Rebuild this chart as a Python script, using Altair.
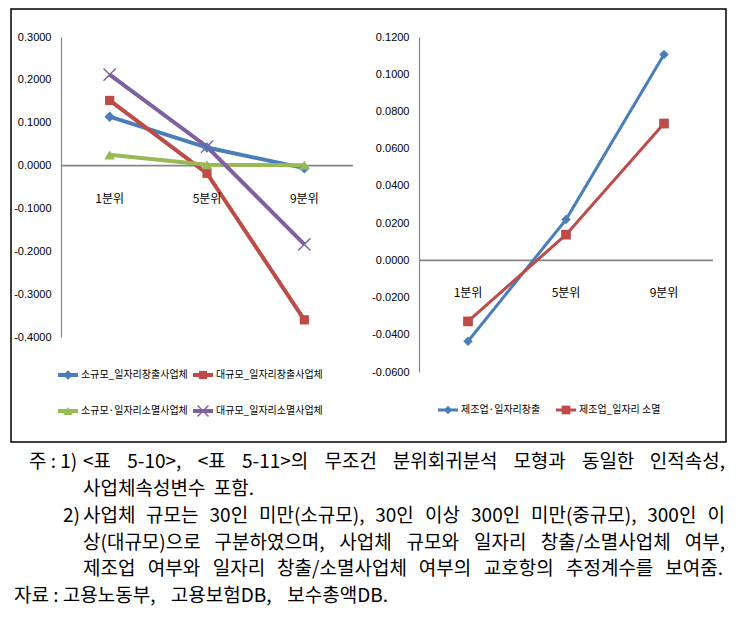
import altair as alt
import pandas as pd

# ---------------- data ----------------
CATS = ["1분위", "5분위", "9분위"]

LEFT_SERIES = ["소규모_일자리창출사업체", "대규모_일자리창출사업체",
               "소규모·일자리소멸사업체", "대규모_일자리소멸사업체"]
LEFT_BLUE = [0.114, 0.042, -0.006]
LEFT_RED = [0.152, -0.018, -0.360]
LEFT_GREEN = [0.025, 0.002, 0.001]
LEFT_PURPLE = [0.212, 0.044, -0.184]
LEFT_TICKS = [0.3, 0.2, 0.1, 0.0, -0.1, -0.2, -0.3, -0.4]

RIGHT_SERIES = ["제조업·일자리창출", "제조업_일자리 소멸"]
RIGHT_BLUE = [-0.0435, 0.0219, 0.1106]
RIGHT_RED = [-0.0328, 0.0138, 0.0735]
RIGHT_TICKS = [0.12, 0.10, 0.08, 0.06, 0.04, 0.02, 0.0, -0.02, -0.04, -0.06]

NOTE_PREFIX = ["주 : 1)", "", "2)", "", "", ""]
NOTE_WORDS = [
    ["<표", "5-10>,", "<표", "5-11>의", "무조건", "분위회귀분석", "모형과", "동일한", "인적속성,"],
    ["사업체속성변수", "포함."],
    ["사업체", "규모는", "30인", "미만(소규모),", "30인", "이상", "300인", "미만(중규모),", "300인", "이"],
    ["상(대규모)으로", "구분하였으며,", "사업체", "규모와", "일자리", "창출/소멸사업체", "여부,"],
    ["제조업", "여부와", "일자리", "창출/소멸사업체", "여부의", "교호항의", "추정계수를", "보여줌."],
    ["자료 : 고용노동부,", "고용보험DB,", "보수총액DB."],
]

# ---------------- style / layout ----------------
BLUE, RED, GREEN, PURPLE = "#4A7EBB", "#BE4B48", "#98B954", "#7D60A0"
X_PATH = "M-1,-1L1,1M-1,1L1,-1"
AXIS_GRAY = "#868686"
CJK = "Noto Sans CJK KR"
NUMFONT = "Liberation Sans Narrow, Liberation Sans, sans-serif"

LW, LH = 292, 300
RW, RH = 294, 335
ONE = pd.DataFrame({"k": [0]})


def long_df(series, vals):
    rows = []
    for s, v in zip(series, vals):
        for c, y in zip(CATS, v):
            rows.append({"series": s, "cat": c, "val": y})
    return pd.DataFrame(rows)


def panel(series, vals, colors, shapes, domain, ticks, width, height, lw, msizes,
          legend_xy, box=None):
    df = long_df(series, vals)
    xenc = alt.X("cat:N", sort=CATS,
                 scale=alt.Scale(type="point", padding=0.5, domain=CATS), axis=None)
    yscale = alt.Scale(domain=domain, nice=False, zero=False)
    yaxis = alt.Axis(values=ticks, ticks=False, grid=False, domainColor=AXIS_GRAY,
                     domainWidth=1.2, labelPadding=10, labelFontSize=11,
                     labelFont=NUMFONT, labelColor="#000000", title=None,
                     labelExpr="replace(format(datum.value, '.4f'), '\u2212', '-')")
    yenc = alt.Y("val:Q", scale=yscale, axis=yaxis)
    layers = []
    zero = alt.Chart(ONE).mark_rule(color=AXIS_GRAY, strokeWidth=1.8).encode(
        x=alt.value(0), x2=alt.value(width),
        y=alt.Y(datum=0, scale=yscale, axis=yaxis))
    lines = alt.Chart(df).mark_line(strokeWidth=lw).encode(
        x=xenc, y=yenc,
        color=alt.Color("series:N", scale=alt.Scale(domain=series, range=colors),
                        legend=None),
    )
    layers += [zero, lines]
    for s, c, shp, ms in zip(series, colors, shapes, msizes):
        sub = df[df.series == s]
        if shp == X_PATH:
            mk = alt.Chart(sub).mark_point(shape=shp, filled=False, size=ms, color=c,
                                           strokeWidth=1.4, opacity=1)
        else:
            mk = alt.Chart(sub).mark_point(shape=shp, filled=True, size=ms, color=c,
                                           opacity=1)
        layers.append(mk.encode(x=xenc, y=yenc))
    labels = alt.Chart(pd.DataFrame({"cat": CATS})).mark_text(
        dy=33, font=CJK, fontSize=12, color="#000000").encode(
        x=xenc, y=alt.Y(datum=0, scale=yscale, axis=yaxis), text="cat:N")
    layers.append(labels)
    # legend
    for (s, c, shp, ms), (lx, ly) in zip(zip(series, colors, shapes, msizes), legend_xy):
        layers.append(alt.Chart(ONE).mark_rule(color=c, strokeWidth=lw).encode(
            x=alt.value(lx), x2=alt.value(lx + 20), y=alt.value(ly)))
        if shp == X_PATH:
            pm = alt.Chart(ONE).mark_point(shape=shp, filled=False, size=ms * 0.8,
                                           color=c, strokeWidth=1.4, opacity=1)
        else:
            pm = alt.Chart(ONE).mark_point(shape=shp, filled=True, size=ms * 0.8,
                                           color=c, opacity=1)
        layers.append(pm.encode(x=alt.value(lx + 10), y=alt.value(ly)))
        layers.append(alt.Chart(ONE).mark_text(
            text=s, align="left", baseline="middle", font=CJK, fontSize=10,
            color="#000000").encode(x=alt.value(lx + 23), y=alt.value(ly)))
    if box is not None:
        x0, y0, x1, y1 = box
        layers.append(alt.Chart(ONE).mark_rect(
            fillOpacity=0, stroke="#000000", strokeWidth=1.5).encode(
            x=alt.value(x0), x2=alt.value(x1), y=alt.value(y0), y2=alt.value(y1)))
    return alt.layer(*layers).properties(width=width, height=height)


left = panel(LEFT_SERIES, [LEFT_BLUE, LEFT_RED, LEFT_GREEN, LEFT_PURPLE],
             [BLUE, RED, GREEN, PURPLE], ["diamond", "square", "triangle-up", X_PATH],
             [-0.4, 0.3], LEFT_TICKS, LW, LH, 4, [110, 85, 110, 150],
             [(-3, 338), (132, 338), (-3, 374), (132, 374)],
             box=(-50, -28, 665, 405))

right = panel(RIGHT_SERIES, [RIGHT_BLUE, RIGHT_RED], [BLUE, RED], ["diamond", "square"],
              [-0.06, 0.12], RIGHT_TICKS, RW, RH, 3, [90, 95],
              [(19, 373), (137, 373)])

top = alt.hconcat(left, right, spacing=66, bounds="flush")

# ---------------- notes (justified text) ----------------
FS = 19
NOTE_Y = [462, 489, 516, 543, 569, 596]
NOTE_LR = [(82, 724), (82, 253), (82, 724), (82, 724), (82, 722), (13, 387)]
PREFIX_X = [28, 0, 62, 0, 0, 0]
OX, OY = 60, 444


def tw(s):
    w = 0.0
    for ch in s:
        o = ord(ch)
        if 0xAC00 <= o <= 0xD7A3:
            w += 0.91
        elif ch.isdigit() or ch in "<>":
            w += 0.553
        elif ch in "()":
            w += 0.338
        elif ch in ",.:·":
            w += 0.27
        elif ch == "-":
            w += 0.345
        elif ch == "/":
            w += 0.37
        elif ch == " ":
            w += 0.224
        elif ch in "DB":
            w += 0.66
        else:
            w += 0.55
    return w * FS


rows = {"left": [], "center": [], "right": []}
for i, words in enumerate(NOTE_WORDS):
    py = NOTE_Y[i] - OY
    if NOTE_PREFIX[i]:
        rows["left"].append({"t": NOTE_PREFIX[i], "px": PREFIX_X[i] - OX, "py": py})
    L, R = NOTE_LR[i]
    ws = [tw(w) for w in words]
    gap = (R - L - sum(ws)) / (len(words) - 1)
    x = L
    for j, (w, wd) in enumerate(zip(words, ws)):
        if j == 0:
            rows["left"].append({"t": w, "px": x - OX, "py": py})
        elif j == len(words) - 1:
            rows["right"].append({"t": w, "px": R - OX, "py": py})
        else:
            rows["center"].append({"t": w, "px": x + wd / 2 - OX, "py": py})
        x += wd + gap

note_layers = []
for anchor, rr in rows.items():
    note_layers.append(alt.Chart(pd.DataFrame(rr)).mark_text(
        align=anchor, baseline="middle", font=CJK, fontSize=FS, color="#000000").encode(
        x=alt.X("px:Q", scale=None, axis=None),
        y=alt.Y("py:Q", scale=None, axis=None),
        text="t:N"))
notes = alt.layer(*note_layers).properties(width=660, height=165)

# the flush layout of the nested row counts no height, so the spacing carries it
chart = alt.vconcat(top, notes, spacing=RH + 72, bounds="flush").properties(
    padding={"left": 2, "top": 0, "right": 0, "bottom": 0}
).configure_view(strokeWidth=0)

chart.save("out.html", embed_options={"renderer": "svg", "actions": False})
